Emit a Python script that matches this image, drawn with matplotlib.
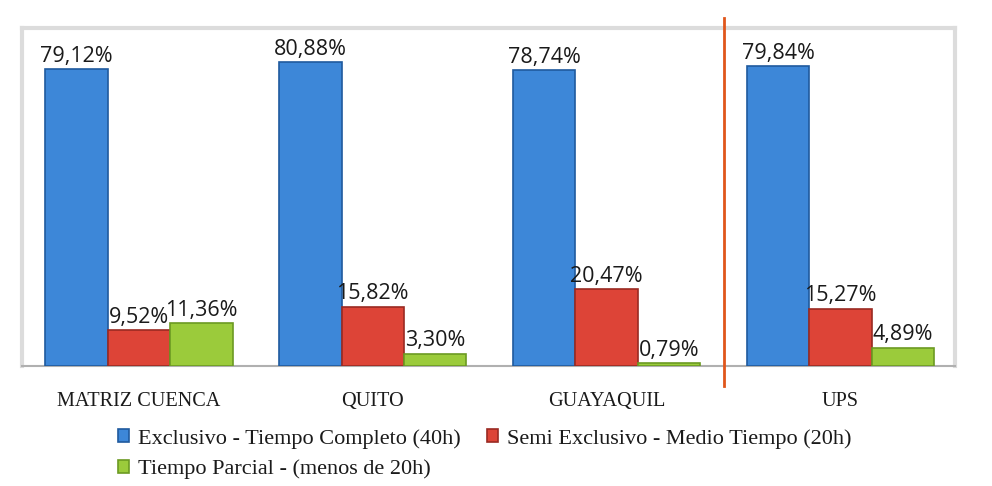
import numpy as np
import matplotlib
matplotlib.use("Agg")
from matplotlib import pyplot as plt

sedes = ["MATRIZ CUENCA", "QUITO", "GUAYAQUIL", "UPS"]
exclusivo = [79.12, 80.88, 78.74, 79.84]
semi = [9.52, 15.82, 20.47, 15.27]
parcial = [11.36, 3.30, 0.79, 4.89]
series = ["Exclusivo - Tiempo Completo (40h)",
          "Semi Exclusivo - Medio Tiempo (20h)",
          "Tiempo Parcial - (menos de 20h)"]
colores = ["#3d87d8", "#dd4437", "#9bcb3b"]
bordes = ["#1f5a9e", "#9a2a22", "#6c9a22"]

fig = plt.figure(figsize=(9.92, 4.86), dpi=100)
ax = fig.add_axes([22/992, 1-366/486, (955-22)/992, (366-28)/486])

x = np.arange(len(sedes))
w = 0.267
for k, vals in enumerate([exclusivo, semi, parcial]):
    pos = x + (k-1)*w
    bars = ax.bar(pos, vals, w, color=colores[k], edgecolor=bordes[k],
                  linewidth=1.2, label=series[k], zorder=3)
    for p, v in zip(pos, vals):
        ax.text(p, v + 0.6, ("%.2f%%" % v).replace(".", ","), ha="center",
                va="bottom", fontsize=15.5, family="Open Sans", color="#1a1a1a")

ax.set_xlim(-0.5, 3.49)
ax.set_ylim(0, 90)
ax.set_yticks([])
ax.set_xticks(x)
ax.set_xticklabels(sedes, family="Liberation Serif", fontsize=14.6, color="#1a1a1a")
ax.tick_params(axis="x", length=0, pad=19)
for s in ["top", "right", "left"]:
    ax.spines[s].set_color("#dcdcdc")
    ax.spines[s].set_linewidth(3)
ax.spines["bottom"].set_color("#b0b0b0")
ax.spines["bottom"].set_linewidth(1.5)

# linea separadora
ax.axvline(2.5, ymin=-0.06, ymax=1.03, color="#e0561b", linewidth=2,
           clip_on=False, zorder=4)

h, l = ax.get_legend_handles_labels()
orden = [0, 2, 1]
fig.legend([h[i] for i in orden], [l[i] for i in orden], loc="upper left",
           bbox_to_anchor=(109/992, 1-420/486),
           ncol=2, frameon=False,
           prop={"family": "Liberation Serif", "size": 16},
           labelcolor="#1a1a1a",
           handlelength=0.5, handleheight=0.5, handletextpad=0.4,
           columnspacing=1.2, labelspacing=0.5, borderaxespad=0)

fig.savefig("out.png", dpi=100)
